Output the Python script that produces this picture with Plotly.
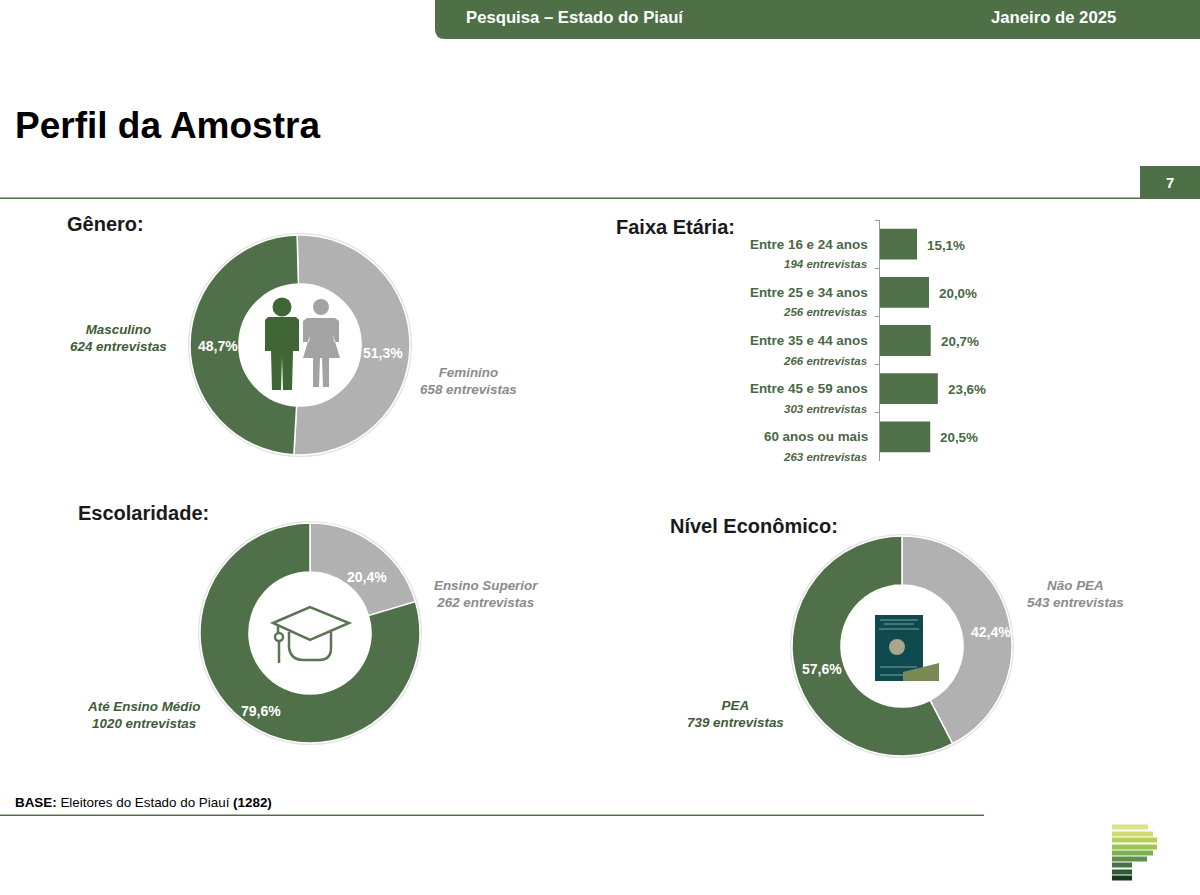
import plotly.graph_objects as go

W = 1200
H = 895
FONT = "Liberation Sans"
GREEN = "#50704a"
GREY = "#b1b1b1"
DARK_TEXT = "#3f5c38"
AGE_TEXT = "#4a6845"
GREY_TEXT = "#8b8b8b"

genero_labels = ["Feminino", "Masculino"]
genero_values = [51.3, 48.7]
genero_counts = [658, 624]

escolaridade_labels = ["Ensino Superior", "Até Ensino Médio"]
escolaridade_values = [20.4, 79.6]
escolaridade_counts = [262, 1020]

economico_labels = ["Não PEA", "PEA"]
economico_values = [42.4, 57.6]
economico_counts = [543, 739]

faixa_labels = ["Entre 16 e 24 anos", "Entre 25 e 34 anos", "Entre 35 e 44 anos", "Entre 45 e 59 anos", "60 anos ou mais"]
faixa_values = [15.1, 20.0, 20.7, 23.6, 20.5]
faixa_counts = [194, 256, 266, 303, 263]


def px(x):
    return x / W


def py(y):
    return 1 - y / H


def pct(v):
    return f"{v:.1f}%".replace(".", ",")


def text(x, y, s, size=13, color=DARK_TEXT, anchor="center"):
    annotations.append(dict(x=px(x), y=py(y), xref="paper", yref="paper", text=s, showarrow=False,
                            xanchor=anchor, yanchor="middle", align="center", borderpad=0,
                            font=dict(family=FONT, size=size, color=color)))


def path(points, **kw):
    # points in screen pixels, closed polygon unless closed=False
    closed = kw.pop("closed", True)
    d = "M " + " L ".join(f"{px(x):.5f},{py(y):.5f}" for x, y in points)
    if closed:
        d += " Z"
    shapes.append(dict(type="path", path=d, xref="paper", yref="paper", **kw))


def rect(x0, y0, x1, y1, color, layer="above"):
    shapes.append(dict(type="rect", xref="paper", yref="paper", x0=px(x0), x1=px(x1), y0=py(y0), y1=py(y1),
                       fillcolor=color, line_width=0, layer=layer))


def circle(cx, cy, r, fill, line=None, lw=0, layer="above"):
    shapes.append(dict(type="circle", xref="paper", yref="paper", x0=px(cx - r), x1=px(cx + r),
                       y0=py(cy - r), y1=py(cy + r), fillcolor=fill, layer=layer,
                       line=dict(color=line or fill, width=lw)))


def donut(labels, values, cx, cy, rotation, colors):
    r = 110
    circle(cx, cy, r + 1, "white", "#e2e2e2", 2, layer="below")
    return go.Pie(labels=labels, values=values, hole=0.555, sort=False, direction="clockwise",
                  rotation=rotation, textinfo="none", showlegend=False,
                  marker=dict(colors=colors, line=dict(color="white", width=1.5)),
                  domain=dict(x=[px(cx - r), px(cx + r)], y=[py(cy + r), py(cy - r)]))


annotations = []
shapes = []
fig = go.Figure()

# donuts
fig.add_trace(donut(genero_labels, genero_values, 300, 345, -1.5, [GREY, GREEN]))
fig.add_trace(donut(escolaridade_labels, escolaridade_values, 310, 633, 0, [GREY, GREEN]))
fig.add_trace(donut(economico_labels, economico_values, 902, 646, 0, [GREY, GREEN]))

# faixa etaria
fig.add_trace(go.Bar(x=faixa_values, y=faixa_labels, orientation="h", width=0.64, showlegend=False,
                     marker=dict(color=GREEN, line_width=0)))

for label, value, count in zip(faixa_labels, faixa_values, faixa_counts):
    annotations.append(dict(x=0, y=label, xref="x", yref="y", text=f"<b>{label}</b>", showarrow=False,
                            xanchor="right", xshift=-10, yshift=0, font=dict(family=FONT, size=13.4, color=AGE_TEXT)))
    annotations.append(dict(x=0, y=label, xref="x", yref="y", text=f"<b><i>{count} entrevistas</i></b>", showarrow=False,
                            xanchor="right", xshift=-11, yshift=-20, font=dict(family=FONT, size=11.5, color=AGE_TEXT)))
    annotations.append(dict(x=value, y=label, xref="x", yref="y", text=f"<b>{pct(value)}</b>", showarrow=False,
                            xanchor="left", xshift=8, yshift=-1, font=dict(family=FONT, size=13.4, color=AGE_TEXT)))

# donut labels
text(218, 346, f"<b>{pct(genero_values[1])}</b>", 14, "white")
text(383, 353, f"<b>{pct(genero_values[0])}</b>", 14, "white")
text(367, 577, f"<b>{pct(escolaridade_values[0])}</b>", 14, "white")
text(261, 711, f"<b>{pct(escolaridade_values[1])}</b>", 14, "white")
text(991, 632, f"<b>{pct(economico_values[0])}</b>", 14, "white")
text(822, 669, f"<b>{pct(economico_values[1])}</b>", 14, "white")

text(118, 338, f"<b><i>{genero_labels[1]}<br>{genero_counts[1]} entrevistas</i></b>", 13.4, DARK_TEXT)
text(468, 381, f"<b><i>{genero_labels[0]}<br>{genero_counts[0]} entrevistas</i></b>", 13.4, GREY_TEXT)
text(486, 594, f"<b><i>{escolaridade_labels[0]}<br>{escolaridade_counts[0]} entrevistas</i></b>", 13.4, GREY_TEXT)
text(143, 715, f"<b><i>{escolaridade_labels[1]}<br>{escolaridade_counts[1]} entrevistas</i></b>", 13.4, DARK_TEXT)
text(1075, 594, f"<b><i>{economico_labels[0]}<br>{economico_counts[0]} entrevistas</i></b>", 13.4, GREY_TEXT)
text(735, 714, f"<b><i>{economico_labels[1]}<br>{economico_counts[1]} entrevistas</i></b>", 13.4, DARK_TEXT)

# header
shapes.append(dict(type="path", xref="paper", yref="paper", fillcolor="#4f6f47", line_width=0,
                   path=f"M {px(435)},{py(0)} L {px(1200)},{py(0)} L {px(1200)},{py(39)} L {px(445)},{py(39)} "
                        f"Q {px(435)},{py(39)} {px(435)},{py(29)} Z"))
text(465, 17, "<b>Pesquisa – Estado do Piauí</b>", 16.7, "white", "left")
text(990, 17, "<b>Janeiro de 2025</b>", 16.7, "white", "left")
text(14, 125, "<b>Perfil da Amostra</b>", 37, "black", "left")

rect(0, 197.5, 1140, 199, "#4f6f47")
rect(1140, 166, 1200, 199, "#4f6f47")
text(1170, 183, "<b>7</b>", 15, "white")

text(66, 224, "<b>Gênero:</b>", 20, "#1a1a1a", "left")
text(615, 227, "<b>Faixa Etária:</b>", 20, "#1a1a1a", "left")
text(77, 513, "<b>Escolaridade:</b>", 20, "#1a1a1a", "left")
text(669, 526, "<b>Nível Econômico:</b>", 20, "#1a1a1a", "left")

text(14, 802, "<b>BASE:</b> Eleitores do Estado do Piauí <b>(1282)</b>", 13.4, "black", "left")
rect(0, 814.5, 984, 816, "#4f6f47")

# logo
logo_rows = [(827, 1148, "#dbe28a"), (834, 1153, "#cfdc70"), (840, 1157, "#b5cf58"), (847, 1157, "#9cc451"),
             (853, 1153, "#7ab04e"), (859, 1147, "#5d9148"), (865, 1132, "#4a7344"), (872, 1132, "#2f5a33"),
             (878, 1132, "#143d1e")]
for y, x1, c in logo_rows:
    rect(1112, y - 2.5, x1, y + 2.5, c)

# homem
MAN = "#3f6634"
circle(282, 307, 9.5, MAN)
path([(268, 317), (296, 317), (299, 320), (299, 351), (293, 351), (292, 390), (283, 390), (282, 356),
      (281, 390), (272, 390), (271, 351), (265, 351), (265, 320)], fillcolor=MAN, line_width=0)
# mulher
WOMAN = "#a3a3a3"
circle(321, 307, 8, WOMAN)
path([(307, 318), (335, 318), (339, 321), (339, 342), (334, 342), (333, 335), (340, 358), (329, 358), (329, 387),
      (323, 387), (322, 358), (320, 358), (319, 387), (313, 387), (313, 358), (303, 358), (310, 335),
      (309, 342), (303, 342), (303, 321)], fillcolor=WOMAN, line_width=0)

# capelo
HAT = dict(color="#5c7355", width=2.5)
path([(273, 623), (310, 607), (349, 623), (310, 640)], fillcolor="rgba(0,0,0,0)", line=HAT)
shapes.append(dict(type="path", xref="paper", yref="paper", line=HAT,
                   path=f"M {px(289)},{py(632)} L {px(289)},{py(648)} Q {px(291)},{py(660)} {px(303)},{py(660)} "
                        f"L {px(319)},{py(660)} Q {px(331)},{py(660)} {px(331)},{py(648)} L {px(331)},{py(632)}"))
path([(278, 625), (278, 633)], closed=False, line=HAT)
circle(279, 637, 4, "white", "#5c7355", 2.5)
path([(279, 642), (279, 663)], closed=False, line=HAT)

# carteira de trabalho
rect(875, 615, 923, 681, "#0f4a4f")
for y, x0, x1 in [(620, 880, 918), (624, 884, 914), (629, 879, 919), (667, 880, 917), (675, 880, 910)]:
    rect(x0, y - 0.5, x1, y + 0.5, "#7fa0a0")
circle(897, 647, 8, "#a9a58e")
path([(903, 672), (939, 663), (939, 681), (903, 681)], fillcolor="#7a8a55", line_width=0)

fig.update_layout(
    width=W, height=H, margin=dict(l=0, r=0, t=0, b=0), paper_bgcolor="white", plot_bgcolor="white",
    showlegend=False, shapes=shapes, annotations=annotations,
    xaxis=dict(domain=[px(880), px(1000)], range=[0, 120 / 2.45], visible=False, fixedrange=True),
    yaxis=dict(domain=[py(461), py(220)], range=[4.5, -0.5], type="category", categoryorder="array",
               categoryarray=faixa_labels, showticklabels=False, showgrid=False, zeroline=False,
               ticks="outside", ticklen=4, tickcolor="#9a9a9a", tickson="boundaries",
               showline=True, linecolor="#9a9a9a", linewidth=1),
)

fig.write_html("out.html", config=dict(displayModeBar=False),
               post_script="document.body.style.margin='0';document.body.style.overflow='hidden';")
